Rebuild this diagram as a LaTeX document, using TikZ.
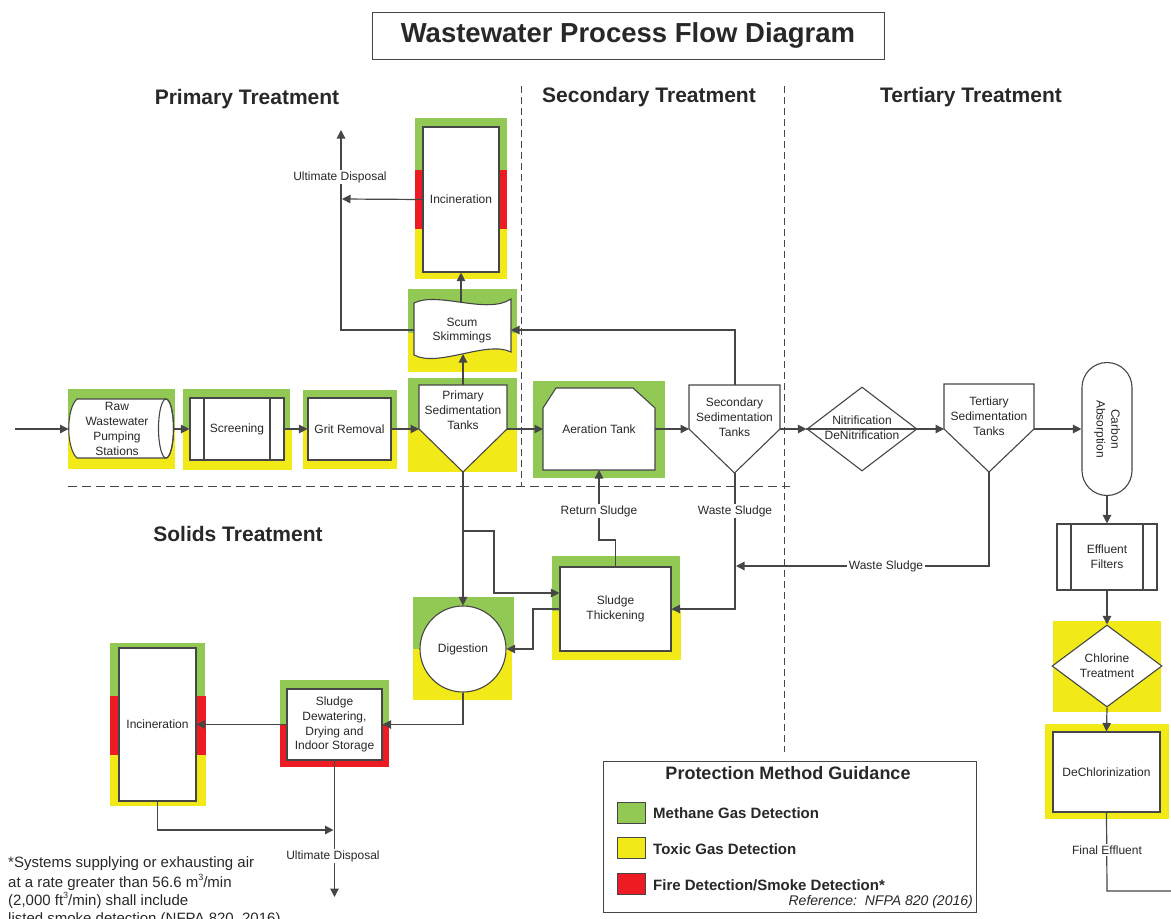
\documentclass[tikz,border=0pt]{standalone}
\usepackage{fontspec}
\setmainfont{Liberation Sans}
\usetikzlibrary{arrows.meta,shapes.geometric,calc}
\definecolor{mgreen}{RGB}{146,200,84}
\definecolor{tyellow}{RGB}{242,234,24}
\definecolor{fred}{RGB}{237,28,36}
\definecolor{ln}{RGB}{70,70,70}
\definecolor{tx}{RGB}{40,40,40}
\newcommand{\supthree}{\raisebox{0.45em}{\fontsize{9}{9}\selectfont 3}}
\tikzset{
  conn/.style={draw=ln, line width=1.2pt},
  flow/.style={conn, -{Triangle[length=8.5pt,width=8.5pt]}},
  shp/.style={draw=ln, fill=white, line width=1.1pt},
  txt/.style={font=\fontsize{12}{14.8}\selectfont, text=tx, align=center, inner sep=1pt},
  wtxt/.style={txt, fill=white, inner sep=1.5pt},
  pbox/.style={shp, txt, inner sep=0pt},
  hdr/.style={font=\fontsize{21}{24}\selectfont\bfseries, text=tx},
  sepline/.style={draw=ln, line width=1pt, dash pattern=on 7pt off 4pt},
  legtxt/.style={font=\fontsize{15}{18}\selectfont\bfseries, text=tx, anchor=west, inner sep=0pt},
  notetxt/.style={font=\fontsize{15}{18}\selectfont, text=tx, anchor=base west, inner sep=0pt},
}
\begin{document}
\begin{tikzpicture}[x=1pt,y=-1pt]
\useasboundingbox (0,0) rectangle (1171,919);
\clip (0,0) rectangle (1171,919);

% ---------- title and headers ----------
\node[draw=ln, line width=1pt, minimum width=512, minimum height=47,
      font=\fontsize{27.5}{30}\selectfont\bfseries, text=tx] (title) at (628,35.5) {Wastewater Process Flow Diagram};
\node[hdr] (hp) at (247,99) {Primary Treatment};
\node[hdr] (hs) at (649,97) {Secondary Treatment};
\node[hdr] (ht) at (971,97) {Tertiary Treatment};
\node[hdr] (hsol) at (238,534) {Solids Treatment};

% ---------- separators ----------
\draw[sepline] (521,86) -- (521,486);
\draw[sepline] (784,86) -- (784,752);
\draw[sepline, dash pattern=on 9pt off 5pt] (68,486) -- (790,486);

% ---------- backgrounds ----------
\fill[mgreen] (68,389) rectangle (175,429);
\fill[tyellow] (68,429) rectangle (175,469);
\fill[mgreen] (183,389) rectangle (290,429);
\fill[tyellow] (183,429) rectangle (292,470);
\fill[mgreen] (303,390) rectangle (397,430);
\fill[tyellow] (303,430) rectangle (397,469);
\fill[mgreen] (408,378) rectangle (517,429);
\fill[tyellow] (408,429) rectangle (517,472);
\fill[mgreen] (408,289) rectangle (517,333);
\fill[tyellow] (408,333) rectangle (517,372);
\fill[mgreen] (415,118) rectangle (507,170);
\fill[fred] (415,170) rectangle (507,229);
\fill[tyellow] (415,229) rectangle (507,279);
\fill[mgreen] (533,381) rectangle (665,478);
\fill[mgreen] (552,556) rectangle (680,611);
\fill[tyellow] (552,611) rectangle (681,660);
\fill[mgreen] (413,597) rectangle (514,649);
\fill[tyellow] (413,649) rectangle (512,700);
\fill[mgreen] (280,680) rectangle (389,724);
\fill[fred] (280,724) rectangle (389,767);
\fill[mgreen] (110,643) rectangle (205,696);
\fill[fred] (110,696) rectangle (206,755);
\fill[tyellow] (110,755) rectangle (206,806);
\fill[tyellow] (1053,621) rectangle (1161,712);
\fill[tyellow] (1045,724) rectangle (1169,819);

% ---------- shapes ----------
\filldraw[shp] (77,399) -- (166,399) arc[start angle=-90, end angle=90, x radius=7.5, y radius=29.5]
   -- (77,458) .. controls (66,448) and (66,409) .. (77,399) -- cycle;
\draw[draw=ln, line width=1.1pt] (166,428.5) ellipse[x radius=7.5, y radius=29.5];
\coordinate (raw-w) at (68.5,429);
\coordinate (raw-e) at (173.5,429);
\node[txt] (raw) at (117,429) {Raw\\Wastewater\\Pumping\\Stations};

\node[pbox, minimum width=94, minimum height=62] (scr) at (237,429) {Screening};
\draw[draw=ln, line width=1.1pt] (204,398) -- (204,460) (270,398) -- (270,460);

\node[pbox, minimum width=83, minimum height=62] (grit) at (349.5,429) {Grit Removal};

\filldraw[shp] (419,385) -- (507,385) -- (507,429) -- (463,472) -- (419,429) -- cycle;
\coordinate (psed-n) at (463,385);
\coordinate (psed-s) at (463,472);
\coordinate (psed-w) at (419,429);
\coordinate (psed-e) at (507,429);
\node[txt] (psed) at (463,410) {Primary\\Sedimentation\\Tanks};

\filldraw[shp] (414,303) .. controls (438,291) and (487,315) .. (511,299)
   -- (511,352) .. controls (487,340) and (438,368) .. (414,355) -- cycle;
\coordinate (scum-n) at (461,303);
\coordinate (scum-s) at (463,354);
\coordinate (scum-w) at (414,330);
\coordinate (scum-e) at (511,330);
\node[txt] (scum) at (462,330.5) {Scum\\Skimmings};

\node[pbox, minimum width=76, minimum height=145] (inc1) at (461,199.5) {Incineration};

\filldraw[shp] (543,408) -- (556,388) -- (633,388) -- (655,408) -- (655,470) -- (543,470) -- cycle;
\coordinate (aer-w) at (543,429);
\coordinate (aer-e) at (655,429);
\coordinate (aer-s) at (599,470);
\node[txt] (aer) at (599,429) {Aeration Tank};

\filldraw[shp] (689,385) -- (780,385) -- (780,429) -- (734.5,473) -- (689,429) -- cycle;
\coordinate (ssed-n) at (735,385);
\coordinate (ssed-s) at (735,473);
\coordinate (ssed-w) at (689,429);
\coordinate (ssed-e) at (780,429);
\node[txt] (ssed) at (734.5,417) {Secondary\\Sedimentation\\Tanks};

\node[diamond, shp, minimum width=110, minimum height=84, inner sep=0pt] (nit) at (862,429) {};
\draw[conn] (nit.west) -- (nit.east);
\node[txt] (nitt) at (862,428) {Nitrification\\DeNitrification};

\filldraw[shp] (944,384) -- (1034,384) -- (1034,429) -- (989,472) -- (944,429) -- cycle;
\coordinate (tsed-w) at (944,429);
\coordinate (tsed-e) at (1034,429);
\coordinate (tsed-s) at (989,472);
\node[txt] (tsed) at (989,416.5) {Tertiary\\Sedimentation\\Tanks};

\node[shp, rounded corners=25, minimum width=50, minimum height=133, inner sep=0pt] (carb) at (1107,429) {};
\node[txt, rotate=-90] (carbt) at (1107,429) {Carbon\\Absorption};

\node[pbox, minimum width=100, minimum height=66] (filt) at (1107,557) {Effluent\\Filters};
\draw[draw=ln, line width=1.1pt] (1071,524) -- (1071,590) (1143,524) -- (1143,590);

\node[diamond, shp, minimum width=110, minimum height=82, inner sep=0pt] (chl) at (1107,666) {};
\node[txt] (chlt) at (1107,665.5) {Chlorine\\Treatment};

\node[pbox, minimum width=107, minimum height=80] (dechl) at (1106.5,772) {DeChlorinization};

\node[pbox, minimum width=111, minimum height=84] (st) at (615.5,609) {Sludge\\Thickening};

\node[circle, pbox, minimum size=86] (dig) at (463,649) {Digestion};

\node[pbox, minimum width=95, minimum height=71] (dew) at (334.5,724.5) {Sludge\\Dewatering,\\Drying and\\Indoor Storage};

\node[pbox, minimum width=77, minimum height=153] (inc2) at (157.5,724.5) {Incineration};

% ---------- connectors ----------
\coordinate (in) at (15,429);
\draw[flow] (in) -- (raw-w);
\draw[flow] (raw-e) -- (scr.west);
\draw[flow] (scr.east) -- (grit.west);
\draw[flow] (grit.east) -- (psed-w);
\draw[flow] (psed-e) -- (aer-w);
\draw[flow] (aer-e) -- (ssed-w);
\draw[flow] (ssed-e) -- (nit.west);
\draw[flow] (nit.east) -- (tsed-w);
\draw[flow] (tsed-e) -- (carb.west);

\draw[flow] (psed-n) -- (scum-s);
\draw[flow] (scum-n) -- (inc1.south);
\coordinate (ud1j) at (342,199);
\draw[flow] (inc1.west) -- (ud1j);
\coordinate (ud1) at (341,130);
\draw[flow] (scum-w) -- (341,330) -- (ud1);
\node[wtxt] (ud1l) at (340,177) {Ultimate Disposal};
\draw[flow] (ssed-n) -- (735,330) -- (scum-e);

\draw[flow] (psed-s) -- (dig.north);
\coordinate (br1) at (463,531);
\draw[flow] (br1) -- (494,531) -- (494,593) -- (st.west |- 0,593);
\draw[flow] (st.west) -- (533,609) -- (533,649) -- (dig.east);
\draw[flow] (st.north) -- (615.5,540) -- (599,540) -- (aer-s);
\node[wtxt] (rsl) at (599,511) {Return Sludge};
\draw[flow] (ssed-s) -- (735,609) -- (st.east);
\node[wtxt] (wsl1) at (735,511) {Waste Sludge};
\coordinate (wsj) at (736,566);
\draw[flow] (tsed-s) -- (989,566) -- (wsj);
\node[wtxt] (wsl2) at (886,566) {Waste Sludge};

\draw[flow] (dig.south) -- (463,724.5) -- (dew.east);
\draw[flow] (dew.west) -- (inc2.east);
\coordinate (ud2j) at (333.5,830);
\draw[flow] (inc2.south) -- (157.5,830) -- (ud2j);
\coordinate (ud2) at (334.5,897);
\draw[flow] (dew.south) -- (ud2);
\node[wtxt] (ud2l) at (333,856) {Ultimate Disposal};

\draw[flow] (carb.south) -- (filt.north);
\draw[flow] (filt.south) -- (chl.north);
\draw[flow] (chl.south) -- (dechl.north);
\coordinate (fe) at (1180,891);
\draw[flow] (dechl.south) -- (1107,891) -- (fe);
\node[wtxt] (fel) at (1107,850) {Final Effluent};

% ---------- legend ----------
\node[draw=ln, line width=1pt, fill=white, minimum width=373, minimum height=151] (leg) at (789.5,836.5) {};
\node[font=\fontsize{18}{21}\selectfont\bfseries, text=tx] (legt) at (788,773) {Protection Method Guidance};
\node[draw=ln, line width=0.8pt, fill=mgreen, minimum width=28, minimum height=21] (sw1) at (631,812.5) {};
\node[draw=ln, line width=0.8pt, fill=tyellow, minimum width=28, minimum height=21] (sw2) at (631,847.5) {};
\node[draw=ln, line width=0.8pt, fill=fred, minimum width=28, minimum height=21] (sw3) at (631,883.5) {};
\node[legtxt] (lg1) at (653,813) {Methane Gas Detection};
\node[legtxt] (lg2) at (653,849) {Toxic Gas Detection};
\node[legtxt] (lg3) at (653,885) {Fire Detection/Smoke Detection*};
\node[font=\fontsize{14}{16}\selectfont\itshape, text=tx, anchor=east, inner sep=0pt] (lgref) at (973,902) {Reference:\ \ NFPA 820 (2016)};

% ---------- footnote ----------
\node[notetxt] (n1) at (8,867.5) {*Systems supplying or exhausting air};
\node[notetxt] (n2) at (8,887) {at a rate greater than 56.6 m\supthree/min};
\node[notetxt] (n3) at (8,905.5) {(2,000 ft\supthree/min) shall include};
\node[notetxt] (n4) at (8,923.5) {listed smoke detection (NFPA 820, 2016)};
\end{tikzpicture}
\end{document}
